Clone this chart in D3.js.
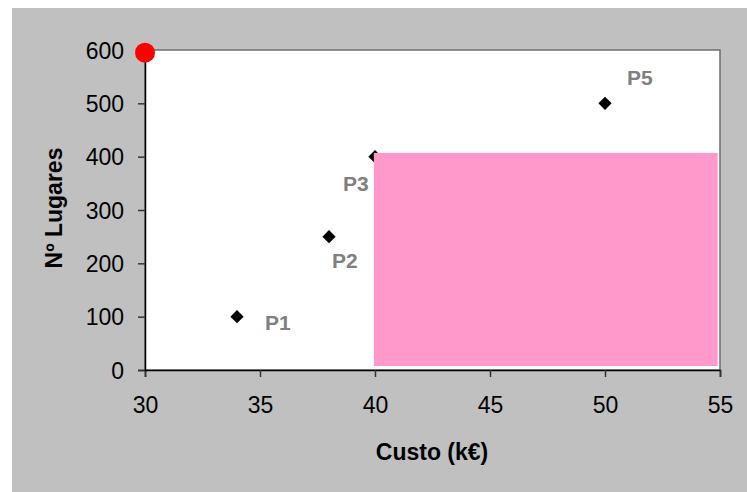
<!DOCTYPE html>
<html>
<head>
<meta charset="utf-8">
<script src="https://cdn.jsdelivr.net/npm/d3@7"></script>
<style>
  html, body { margin: 0; padding: 0; background: #fff; }
  svg { display: block; font-family: Arial, "Liberation Sans", sans-serif; }
</style>
</head>
<body>
<svg id="chart" width="747" height="492"></svg>
<script>
const names = ['P1', 'P2', 'P3', 'P5'];
const costs = [34, 38, 40, 50];
const seats = [100, 250, 400, 500];
const xTicks = [30, 35, 40, 45, 50, 55];
const yTicks = [0, 100, 200, 300, 400, 500, 600];
// highlighted zone (cost range, seats range) and the red reference point
const zoneX = [39.95, 54.9];
const zoneY = [7.5, 407];
const refPoint = [30, 595];

// label offsets from each point, pixels
const labelOffsets = [[28, 13], [3, 31], [-32, 34], [22, -18]];

const svg = d3.select('#chart');
const margin = { left: 145, top: 50, right: 27, bottom: 122 };
const width = 747 - margin.left - margin.right;
const height = 492 - margin.top - margin.bottom;

svg.append('rect')
    .attr('x', 12).attr('y', 8)
    .attr('width', 747 - 12).attr('height', 492 - 8)
    .attr('fill', '#c0c0c0');

const g = svg.append('g').attr('transform', `translate(${margin.left},${margin.top})`);

const x = d3.scaleLinear().domain([30, 55]).range([0, width]);
const y = d3.scaleLinear().domain([0, 600]).range([height, 0]);

g.append('rect')
    .attr('width', width).attr('height', height)
    .attr('fill', '#fff')
    .attr('stroke', '#6e6e6e')
    .attr('stroke-width', 1.5);

const points = names.map((n, i) => ({ name: n, cost: costs[i], seats: seats[i], off: labelOffsets[i] }));

g.selectAll('.pt')
    .data(points)
    .enter()
    .append('path')
    .attr('class', 'pt')
    .attr('d', d3.symbol().type(d3.symbolSquare).size(88))
    .attr('transform', d => `translate(${x(d.cost)},${y(d.seats)}) rotate(45)`)
    .attr('fill', '#000');

// zone sits over the markers, as in the original
g.append('rect')
    .attr('x', x(zoneX[0]))
    .attr('y', y(zoneY[1]))
    .attr('width', x(zoneX[1]) - x(zoneX[0]))
    .attr('height', y(zoneY[0]) - y(zoneY[1]))
    .attr('fill', '#ff99cc');

const xAxis = g.append('g')
    .attr('transform', `translate(0,${height})`)
    .call(d3.axisBottom(x).tickValues(xTicks).tickSize(7).tickPadding(20));
const yAxis = g.append('g')
    .call(d3.axisLeft(y).tickValues(yTicks).tickSize(7).tickPadding(14));

[xAxis, yAxis].forEach(ax => {
    ax.select('.domain').attr('stroke', '#000').attr('stroke-width', 1.5);
    ax.selectAll('.tick line').attr('stroke', '#333').attr('stroke-width', 1.5);
    ax.selectAll('.tick text')
        .attr('fill', '#000')
        .style('font-size', '23px')
        .style('font-family', 'Arial, "Liberation Sans", sans-serif');
});
yAxis.selectAll('.tick text').attr('dy', '0.36em');
xAxis.selectAll('.tick text').attr('dy', '0.71em');

g.selectAll('.lbl')
    .data(points)
    .enter()
    .append('text')
    .attr('class', 'lbl')
    .attr('x', d => x(d.cost) + d.off[0])
    .attr('y', d => y(d.seats) + d.off[1])
    .attr('fill', '#808080')
    .style('font-size', '21px')
    .style('font-weight', 'bold')
    .text(d => d.name);

g.append('circle')
    .attr('cx', x(refPoint[0]))
    .attr('cy', y(refPoint[1]))
    .attr('r', 10)
    .attr('fill', '#ff0000');

svg.append('text')
    .attr('x', 432)
    .attr('y', 460)
    .attr('text-anchor', 'middle')
    .style('font-size', '23px')
    .style('font-weight', 'bold')
    .text('Custo (k€)');

svg.append('text')
    .attr('transform', 'translate(62,208) rotate(-90)')
    .attr('text-anchor', 'middle')
    .style('font-size', '23px')
    .style('font-weight', 'bold')
    .text('Nº Lugares');
</script>
</body>
</html>
